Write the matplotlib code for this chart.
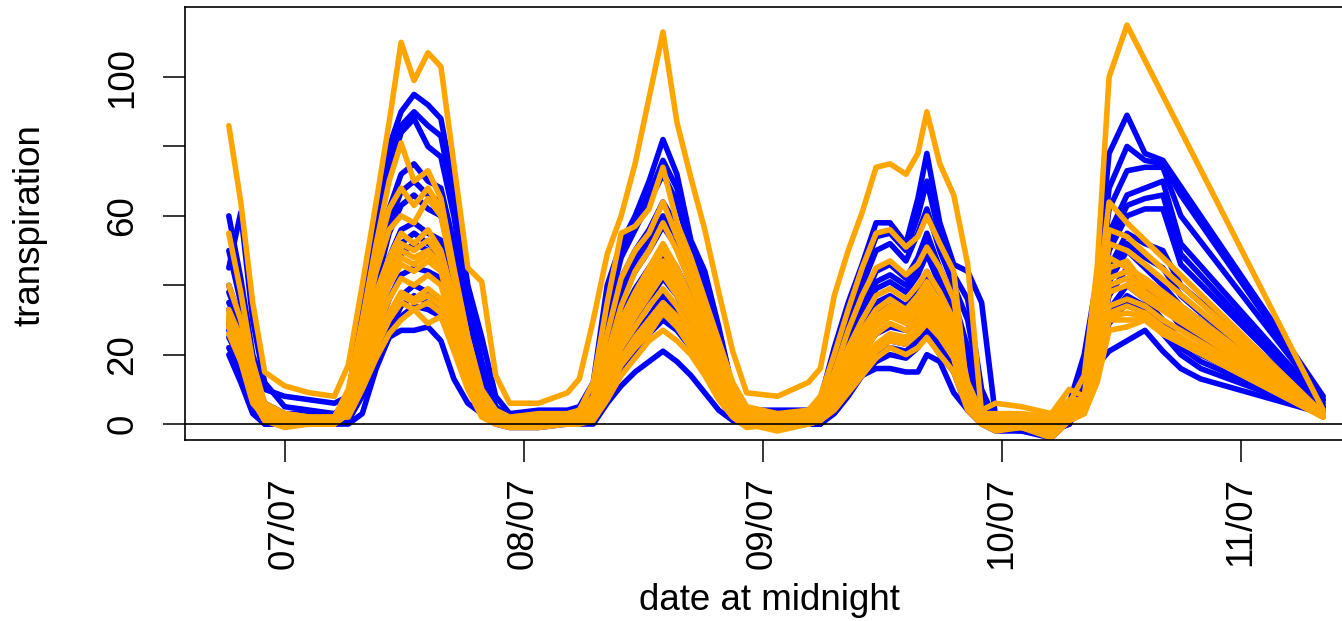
import numpy as np
import matplotlib
matplotlib.use("Agg")
import matplotlib.pyplot as plt

nan = np.nan

# hours since 07/07 00:00
hours = [-5.6, -4.4, -3.2, -2.0, 0.0, 2.5, 5.0,
         6.4, 7.8, 9.2, 10.5, 11.7, 13.0, 14.4, 15.7, 17.0, 18.4, 19.8, 21.2, 22.6,
         25.5, 28.4, 29.6,
         31.0, 32.4, 33.8, 35.2, 36.6, 38.0, 39.4, 40.8, 42.2, 43.6, 45.0, 46.4,
         49.5, 52.6, 53.8,
         55.2, 56.6, 58.0, 59.4, 60.8, 62.4, 63.6, 64.5, 65.8, 67.2, 68.6, 70.0, 71.4,
         74.0, 77.0, 78.8,
         80.3, 81.6, 82.8, 84.6, 86.4, 88.2, 90.0, 92.0,
         104.3]

tick_hours = [0, 24, 48, 72, 96]
tick_labels = ["07/07", "08/07", "09/07", "10/07", "11/07"]

blue_1 = [60, 42, 20, 10, 8, 7, 6,
          8, 35, 60, 80, 90, 95, 92, 88, 68, 40, 25, 8, 3,
          4, 4, 5,
          12, 40, 52, 60, 70, 82, 72, 53, 44, 28, 10, 4,
          4, 4, 7,
          22, 35, 46, 58, 58, 52, 65, 78, 58, 46, 44, 35, 2,
          2, 1, 6,
          20, 42, 78, 89, 78, 76, nan, nan,
          8]
blue_2 = [45, 61, 30, 12, 5, 4, 3,
          6, 30, 52, 72, 84, 88, 80, 77, 60, 35, 14, 4, 2,
          3, 3, 4,
          8, 32, 48, 56, 64, 72, 64, 50, 40, 25, 9, 3,
          3, 3, 5,
          18, 30, 40, 50, 52, 47, 55, 62, 50, 40, 30, 8, 1,
          1, 0, 5,
          18, 36, 62, 73, 74, 74, 60, nan,
          7]
blue_3 = [40, 30, 12, 4, 2, 2, 2,
          5, 26, 45, 62, 72, 75, 70, 68, 52, 30, 12, 3, 1,
          2, 2, 3,
          6, 26, 42, 50, 56, 64, 57, 45, 35, 22, 8, 3,
          2, 2, 4,
          15, 26, 35, 44, 46, 42, 48, 55, 45, 36, 22, 5, 0,
          0, -1, 4,
          16, 32, 55, 66, 68, 70, 52, nan,
          6]
blue_4 = [35, 28, 10, 3, 1, 1, 1,
          4, 22, 40, 55, 63, 66, 62, 60, 46, 27, 10, 2, 0,
          1, 1, 2,
          5, 22, 36, 44, 50, 57, 51, 40, 31, 19, 7, 2,
          1, 1, 3,
          13, 23, 31, 39, 41, 38, 43, 49, 40, 32, 16, 3, 0,
          0, 0, 3,
          15, 28, 50, 60, 62, 62, 46, nan,
          5]
blue_5 = [30, 25, 8, 2, 0, 0, 0,
          3, 19, 35, 48, 56, 58, 55, 53, 40, 24, 8, 2, 0,
          1, 1, 1,
          4, 18, 31, 39, 45, 51, 45, 36, 28, 16, 6, 2,
          1, 1, 2,
          11, 20, 28, 35, 37, 34, 38, 44, 36, 28, 12, 2, 0,
          -1, -1, 2,
          14, 26, 45, 55, 52, 50, 40, nan,
          5]
blue_6 = [28, 20, 6, 1, 0, 0, 0,
          2, 16, 30, 42, 49, 52, 50, 48, 36, 21, 7, 1, 0,
          0, 0, 1,
          3, 15, 27, 34, 40, 46, 41, 32, 25, 14, 5, 1,
          0, 0, 1,
          9, 17, 24, 30, 32, 30, 34, 39, 32, 25, 9, 1, -1,
          -1, -2, 2,
          13, 24, 41, 50, 45, 40, 34, nan,
          4]
blue_7 = [25, 18, 5, 1, 0, 0, 0,
          2, 13, 26, 36, 43, 45, 44, 42, 32, 18, 6, 1, 0,
          0, 0, 0,
          2, 12, 23, 30, 36, 42, 37, 29, 22, 12, 4, 1,
          0, 0, 1,
          7, 14, 21, 26, 28, 27, 30, 35, 28, 22, 7, 1, -1,
          -2, -4, 1,
          12, 22, 37, 45, 40, 35, 28, 24,
          4]
blue_8 = [22, 15, 4, 0, 0, 0, 0,
          1, 10, 22, 30, 37, 40, 38, 36, 27, 15, 4, 0, -1,
          -1, 0, 0,
          2, 10, 19, 26, 31, 37, 33, 26, 19, 10, 3, 0,
          0, 0, 0,
          5, 11, 17, 22, 24, 23, 26, 30, 24, 18, 5, 0, -2,
          -2, -3, 1,
          11, 20, 33, 40, 36, 30, 24, 20,
          3]
blue_9 = [33, 26, 9, 2, 1, 1, 1,
          1, 8, 17, 25, 31, 34, 33, 31, 23, 12, 3, 0, 0,
          0, 0, 0,
          1, 8, 15, 21, 26, 30, 27, 22, 16, 8, 2, 0,
          0, 0, 0,
          4, 9, 14, 18, 20, 19, 22, 26, 20, 15, 4, 0, -1,
          -1, -2, 0,
          10, 19, 29, 35, 32, 26, 20, 16,
          3]
blue_10 = [20, 12, 3, 0, 0, 0, 0,
           0, 3, 16, 25, 27, 27, 28, 24, 13, 6, 3, 1, 0,
           0, 0, 0,
           0, 6, 11, 15, 18, 21, 18, 14, 9, 4, 1, 0,
           0, 0, 0,
           3, 8, 14, 16, 16, 15, 15, 20, 18, 9, 4, 1, -1,
           -1, -1, 0,
           8, 17, 21, 24, 27, 21, 16, 13,
           3]
blue_11 = [50, 35, 15, 6, 3, 3, 2,
           6, 32, 56, 76, 86, 90, 86, 83, 64, 38, 18, 5, 2,
           3, 3, 4,
           10, 36, 50, 58, 66, 76, 68, 52, 42, 27, 10, 3,
           3, 3, 6,
           20, 32, 43, 54, 55, 50, 60, 70, 54, 43, 36, 10, 1,
           1, 0, 5,
           19, 38, 68, 80, 76, 75, 66, nan,
           7]
blue_12 = [38, 29, 11, 3, 1, 1, 1,
           4, 24, 42, 58, 67, 70, 66, 64, 49, 28, 11, 2, 0,
           1, 1, 2,
           5, 24, 39, 47, 53, 60, 54, 42, 33, 20, 7, 2,
           1, 1, 3,
           14, 24, 33, 41, 43, 40, 45, 52, 42, 34, 19, 4, 0,
           0, -1, 3,
           15, 30, 52, 63, 65, 66, 49, nan,
           5]
blue_13 = [29, 22, 7, 1, 0, 0, 0,
           2, 17, 32, 45, 52, 55, 52, 50, 38, 22, 7, 1, 0,
           0, 0, 1,
           3, 16, 29, 36, 42, 48, 43, 34, 26, 15, 5, 1,
           0, 0, 1,
           10, 18, 26, 32, 34, 32, 36, 41, 34, 26, 10, 1, -1,
           -1, -2, 2,
           13, 25, 43, 52, 48, 45, 37, 32,
           4]
blue_14 = [27, 20, 6, 1, 0, 0, 0,
           1, 9, 19, 27, 34, 37, 35, 33, 25, 13, 3, 0, 0,
           0, 0, 0,
           1, 9, 17, 23, 28, 33, 30, 24, 17, 9, 2, 0,
           0, 0, 0,
           4, 10, 15, 20, 22, 21, 24, 28, 22, 16, 4, 0, -1,
           -1, -2, 0,
           10, 19, 31, 37, 34, 28, 22, 18,
           3]

orange_1 = [86, 64, 35, 15, 11, 9, 8,
            17, 40, 64, 87, 110, 99, 107, 103, 75, 45, 41, 14, 6,
            6, 9, 13,
            30, 49, 60, 75, 94, 113, 87, 71, 56, 38, 21, 9,
            8, 12, 16,
            37, 50, 61, 74, 75, 72, 78, 90, 75, 66, 46, 3, 0,
            1, -3, 6,
            14, 45, 100, 115, nan, nan, nan, nan,
            4]
orange_2 = [55, 38, 18, 6, 3, 2, 2,
            10, 30, 52, 70, 81, 70, 73, 65, 45, 25, 10, 4, 2,
            3, 3, 4,
            12, 35, 55, 57, 62, 74, 58, 48, 36, 24, 12, 5,
            3, 4, 8,
            20, 33, 45, 55, 56, 51, 54, 60, 52, 44, 8, 4, 6,
            5, 3, 10,
            8, 35, 64, 58, nan, nan, nan, nan,
            3]
orange_3 = [33, 25, 12, 4, 1, 1, 1,
            8, 26, 44, 56, 60, 58, 65, 60, 42, 24, 9, 3, 1,
            2, 2, 3,
            6, 20, 34, 44, 50, 58, 50, 40, 30, 18, 8, 3,
            2, 3, 5,
            12, 22, 30, 37, 39, 36, 40, 44, 38, 30, 12, 3, 2,
            2, 1, 5,
            7, 30, 52, 50, 46, nan, nan, nan,
            3]
orange_4 = [30, 22, 9, 3, 0, 0, 0,
            6, 22, 38, 48, 55, 52, 56, 50, 36, 20, 7, 2, 1,
            1, 1, 2,
            5, 17, 30, 38, 45, 52, 45, 36, 27, 16, 7, 2,
            1, 2, 4,
            10, 19, 27, 33, 36, 33, 37, 41, 35, 28, 10, 2, 1,
            1, 0, 4,
            6, 26, 48, 45, 42, nan, nan, nan,
            3]
orange_5 = [28, 20, 8, 2, 0, 0, 0,
            5, 20, 34, 44, 50, 48, 50, 46, 34, 18, 6, 2, 0,
            1, 1, 1,
            4, 15, 27, 35, 41, 47, 41, 33, 24, 14, 6, 2,
            1, 1, 3,
            9, 17, 25, 30, 33, 31, 34, 38, 33, 26, 9, 1, 0,
            0, -1, 3,
            5, 22, 42, 44, 38, nan, nan, nan,
            3]
orange_6 = [32, 24, 10, 3, 1, 0, 1,
            5, 18, 30, 40, 46, 44, 47, 44, 30, 16, 5, 1, 0,
            0, 0, 1,
            3, 13, 24, 31, 37, 43, 37, 30, 22, 12, 5, 1,
            0, 1, 2,
            8, 15, 22, 28, 31, 29, 32, 35, 31, 24, 8, 1, 0,
            0, -2, 2,
            5, 20, 38, 40, 36, nan, nan, nan,
            3]
orange_7 = [26, 18, 6, 2, 1, 1, 0,
            4, 16, 27, 36, 42, 40, 43, 40, 28, 14, 4, 1, 0,
            1, 0, 1,
            3, 12, 22, 28, 34, 39, 34, 27, 20, 11, 4, 1,
            -1, 0, 2,
            7, 14, 20, 26, 29, 27, 30, 33, 29, 22, 7, 0, -1,
            -1, -3, 2,
            4, 18, 34, 36, 34, 30, nan, nan,
            3]
orange_8 = [30, 21, 7, 1, -1, 0, 0,
            3, 14, 24, 32, 38, 36, 39, 36, 26, 12, 3, 0, -1,
            -1, 0, 0,
            2, 10, 19, 25, 30, 35, 31, 25, 18, 10, 4, 0,
            -2, 0, 1,
            6, 12, 18, 23, 26, 25, 28, 31, 27, 20, 6, 0, 0,
            -1, -4, 1,
            4, 16, 32, 34, 32, 28, nan, nan,
            2]
orange_9 = [29, 20, 9, 3, 2, 1, 1,
            3, 12, 22, 30, 35, 33, 35, 32, 23, 11, 3, 0, 0,
            0, 1, 1,
            2, 9, 17, 22, 26, 32, 28, 22, 16, 8, 3, 0,
            0, 1, 2,
            5, 10, 16, 21, 24, 23, 26, 29, 25, 19, 5, 0, 0,
            0, -2, 2,
            3, 14, 30, 30, 30, 26, nan, nan,
            2]
orange_10 = [31, 23, 11, 5, 3, 2, 2,
             2, 10, 19, 26, 30, 33, 29, 31, 21, 10, 2, 0, 0,
             0, 0, 0,
             1, 7, 14, 19, 24, 27, 24, 20, 14, 7, 2, -1,
             0, 0, 1,
             4, 9, 14, 19, 22, 20, 22, 25, 20, 15, 4, 0, -2,
             -1, -3, 1,
             3, 12, 27, 28, 30, 26, nan, nan,
             2]
orange_11 = [40, 30, 14, 5, 2, 1, 1,
             9, 28, 48, 62, 68, 63, 68, 62, 44, 25, 9, 3, 1,
             2, 2, 3,
             8, 26, 42, 50, 55, 64, 54, 44, 33, 20, 9, 4,
             2, 3, 6,
             15, 27, 37, 45, 47, 43, 46, 51, 45, 36, 10, 3, 3,
             3, 2, 7,
             7, 32, 56, 54, nan, nan, nan, nan,
             3]
orange_12 = [31, 23, 10, 3, 1, 0, 0,
             6, 21, 36, 46, 52, 50, 53, 48, 35, 19, 6, 2, 0,
             1, 1, 1,
             4, 16, 28, 36, 43, 50, 43, 35, 25, 15, 6, 2,
             1, 1, 3,
             9, 18, 26, 31, 34, 32, 35, 39, 34, 27, 9, 1, 0,
             0, -1, 3,
             5, 24, 45, 47, 40, nan, nan, nan,
             3]
orange_13 = [30, 22, 8, 2, 0, 0, 0,
             5, 19, 32, 42, 48, 46, 49, 45, 32, 17, 5, 1, 0,
             0, 0, 1,
             3, 14, 25, 33, 39, 45, 39, 31, 23, 13, 5, 1,
             0, 1, 2,
             8, 16, 23, 29, 32, 30, 33, 36, 32, 25, 8, 1, 0,
             0, -1, 2,
             5, 21, 40, 42, 37, nan, nan, nan,
             3]
orange_14 = [28, 20, 7, 1, 0, 0, 0,
             3, 13, 23, 31, 37, 35, 37, 34, 24, 11, 3, 0, 0,
             0, 0, 0,
             2, 9, 18, 23, 28, 33, 29, 23, 17, 9, 3, 0,
             -1, 0, 1,
             5, 11, 17, 22, 25, 24, 27, 30, 26, 19, 5, 0, 0,
             0, -2, 1,
             3, 15, 31, 32, 31, 27, nan, nan,
             2]

blue_series = [blue_1, blue_11, blue_2, blue_3, blue_12, blue_4, blue_5,
               blue_13, blue_6, blue_7, blue_8, blue_14, blue_9, blue_10]
orange_series = [orange_1, orange_2, orange_11, orange_3, orange_4, orange_12,
                 orange_5, orange_13, orange_6, orange_7, orange_8, orange_14,
                 orange_9, orange_10]

plt.rcParams['font.family'] = ['Liberation Sans', 'DejaVu Sans']

W, H = 1342, 621
fig = plt.figure(figsize=(W / 100, H / 100), dpi=100)
ax = fig.add_axes([185 / W, 1 - 440 / H, (1367 - 185) / W, (440 - 7) / H])

t = np.array(hours, dtype=float)


def draw(series, color):
    for s in series:
        y = np.array(s, dtype=float)
        m = ~np.isnan(y)
        ax.plot(t[m], y[m], color=color, lw=4.0,
                solid_joinstyle='round', solid_capstyle='round')


draw(blue_series, '#0000FF')
draw(orange_series, '#FFA500')

ax.axhline(0, color='black', lw=1.2)

ax.set_xlim(-10.0, 108.7)
ax.set_ylim(-4.6, 120.2)

ax.set_xticks(tick_hours)
ax.set_xticklabels(tick_labels, rotation=90)
ax.set_yticks([0, 20, 40, 60, 80, 100])
ax.set_yticklabels(['0', '20', '', '60', '', '100'], rotation=90, va='center')

ax.tick_params(axis='both', length=16, width=1.1, labelsize=26.5, color='black')
ax.tick_params(axis='x', pad=11)
ax.tick_params(axis='y', pad=16)
for sp in ax.spines.values():
    sp.set_linewidth(1.2)

fig.text(769 / W, 1 - 600 / H, 'date at midnight', ha='center', va='center',
         fontsize=26.5)
fig.text(30 / W, 1 - 225 / H, 'transpiration', ha='center', va='center',
         rotation=90, fontsize=26.5)

fig.savefig('out.png', dpi=100)
